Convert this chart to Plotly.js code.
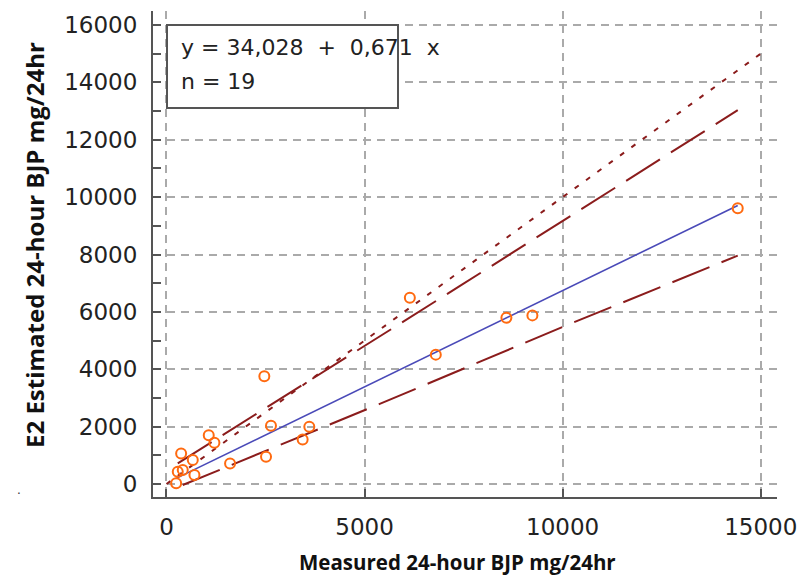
<!DOCTYPE html>
<html>
<head>
<meta charset="utf-8">
<script src="https://cdn.plot.ly/plotly-3.0.1.min.js"></script>
<style>html,body{margin:0;padding:0;background:#fff;}#chart{width:804px;height:584px;}</style>
</head>
<body>
<div id="chart"></div>
<script>
// Data
var measured  = [244, 285, 411, 370, 664, 706, 1067, 1210, 1605, 2470, 2513, 2638, 3437, 3605, 6143, 6798, 8580, 9236, 14419];
var estimated = [24, 428, 487, 1067, 835, 313, 1704, 1437, 719, 3757, 951, 2035, 1554, 1993, 6493, 4510, 5797, 5878, 9612];

var regX = [244, 14419];
var regY = [198, 9709];

var identityX = [0, 15000];
var identityY = [0, 15000];

var upperX = [285, 7428, 14419];
var upperY = [720, 6922, 13030];

var lowerX = [411, 5368, 9992, 14419];
var lowerY = [-35, 2783, 5472, 7960];

var xTicks = [0, 5000, 10000, 15000];
var yTicks = [0, 2000, 4000, 6000, 8000, 10000, 12000, 14000, 16000];

var eqLine = "y = 34,028\u00A0 + \u00A00,671\u00A0 x";
var nLine = "n = 19";
var xTitle = "Measured 24-hour BJP mg/24hr";
var yTitle = "E2 Estimated 24-hour BJP mg/24hr";

var darkRed = "#8b1c1c";

var traces = [
  {x: identityX, y: identityY, mode: "lines", line: {color: darkRed, width: 2, dash: "5px,9px"}, hoverinfo: "skip"},
  {x: upperX, y: upperY, mode: "lines", line: {color: darkRed, width: 2, dash: "40px,13px"}, hoverinfo: "skip"},
  {x: lowerX, y: lowerY, mode: "lines", line: {color: darkRed, width: 2, dash: "40px,13px"}, hoverinfo: "skip"},
  {x: regX, y: regY, mode: "lines", line: {color: "#4a4ab8", width: 1.6}, hoverinfo: "skip"},
  {x: measured, y: estimated, mode: "markers", marker: {symbol: "circle-open", size: 10, color: "#ff6a10", line: {width: 2, color: "#ff6a10"}}}
];

var PL = 153, PR = 777, PT = 11, PB = 497;
function px(v){ return (v - PL) / (PR - PL); }
function py(v){ return (PB - v) / (PB - PT); }

var tickFont = {family: "DejaVu Sans", size: 23, color: "#222"};
var layout = {
  width: 804, height: 584,
  margin: {l: PL, r: 804 - PR, t: PT, b: 584 - PB, pad: 0},
  paper_bgcolor: "#fff", plot_bgcolor: "#fff",
  showlegend: false,
  xaxis: {
    range: [-340, 15410], tickvals: xTicks, ticktext: xTicks.map(String),
    ticks: "inside", ticklen: 8, tickwidth: 2, tickcolor: "#555",
    showline: true, linecolor: "#555", linewidth: 2, mirror: false,
    showgrid: true, gridcolor: "#aaaaaa", gridwidth: 2, griddash: "8px,6px",
    zeroline: false, tickfont: tickFont, ticklabelstandoff: 8
  },
  yaxis: {
    range: [-452, 16487], tickvals: yTicks, ticktext: yTicks.map(String),
    ticks: "inside", ticklen: 8, tickwidth: 2, tickcolor: "#555",
    minor: {dtick: 1000, tick0: 0, ticks: "inside", ticklen: 8, tickwidth: 2, tickcolor: "#555", showgrid: false},
    showline: true, linecolor: "#555", linewidth: 2, mirror: false,
    showgrid: true, gridcolor: "#aaaaaa", gridwidth: 2, griddash: "8px,6px",
    zeroline: false, tickfont: tickFont, ticklabelstandoff: 9
  },
  shapes: [
    {type: "rect", xref: "paper", yref: "paper", x0: px(167), x1: px(398), y0: py(108), y1: py(25),
     line: {color: "#555", width: 2}, fillcolor: "#fff", layer: "above"}
  ],
  annotations: [
    {xref: "paper", yref: "paper", x: px(179), y: py(47), xanchor: "left", yanchor: "middle", showarrow: false,
     text: eqLine, font: {family: "DejaVu Sans", size: 22, color: "#222"}},
    {xref: "paper", yref: "paper", x: px(179), y: py(82), xanchor: "left", yanchor: "middle", showarrow: false,
     text: nLine, font: {family: "DejaVu Sans", size: 22, color: "#222"}},
    {xref: "paper", yref: "paper", x: px(457), y: py(562), xanchor: "center", yanchor: "middle", showarrow: false,
     text: "<b>" + xTitle + "</b>", font: {family: "Open Sans", size: 20.5, color: "#111"}},
    {xref: "paper", yref: "paper", x: px(34), y: py(245), xanchor: "center", yanchor: "middle", showarrow: false, textangle: -90,
     text: "<b>" + yTitle + "</b>", font: {family: "Open Sans", size: 24, color: "#111"}},
    {xref: "paper", yref: "paper", x: px(19), y: py(490), xanchor: "center", yanchor: "middle", showarrow: false,
     text: ".", font: {family: "DejaVu Sans", size: 12, color: "#333"}}
  ]
};

Plotly.newPlot("chart", traces, layout, {staticPlot: true, displayModeBar: false});
</script>
</body>
</html>
